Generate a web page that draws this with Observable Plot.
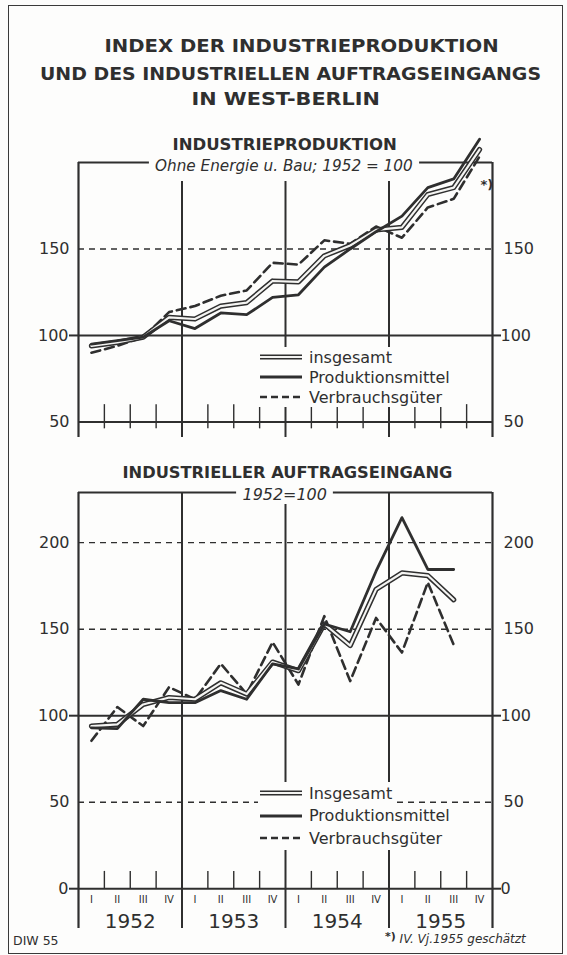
<!DOCTYPE html>
<html>
<head>
<meta charset="utf-8">
<script src="https://cdn.jsdelivr.net/npm/d3@7"></script>
<script src="https://cdn.jsdelivr.net/npm/@observablehq/plot@0.6"></script>
<style>
  body { margin: 0; background: #fdfdfc; }
  #page { position: relative; width: 567px; height: 955px; overflow: hidden; background: #fdfdfc;
          font-family: "DejaVu Sans", sans-serif; color: #2f2f2f; }
  #border { position: absolute; left: 8px; top: 5px; width: 555px; height: 949px;
            border: 1.6px solid #3a3a3a; box-sizing: border-box; }
  .abs { position: absolute; }
  #titles { position: absolute; left: 0; top: 0; z-index: 5; }
  .fit { display: inline-block; white-space: nowrap; transform-origin: center center; }
  .tline { position: absolute; font-weight: bold; font-size: 18px; line-height: 18px; height: 18px; text-align: center; }
  .sub { position: absolute; font-weight: bold; font-size: 16px; line-height: 16px; text-align: center; }
  .subit { position: absolute; font-style: italic; font-size: 15px; line-height: 16px; text-align: center; }
  .subit .fit { background: #fdfdfc; padding: 1px 6px; }
  .legend { position: absolute; font-size: 16px; z-index: 4; }
  .legend .row { display: flex; align-items: center; width: fit-content; background: #fdfdfc; }
  .legend svg { display: block; }
  .chart { position: absolute; left: 0; }
</style>
</head>
<body>
<div id="page">
  <div id="border"></div>
  <div id="top" class="chart" style="top:120px"></div>
  <div id="bottom" class="chart" style="top:455px"></div>
  <div id="titles"></div>
  <div id="legendTop" class="legend" style="left:258px;top:347px"></div>
  <div id="legendBottom" class="legend" style="left:258px;top:782px"></div>
  <div class="abs" style="left:13px;top:934px;font-size:12.5px;line-height:14px;">DIW 55</div>
  <div class="abs" style="left:385px;top:930px;font-size:12px;line-height:14px;white-space:nowrap;"><span style="font-weight:bold;font-size:11px;vertical-align:3px">*)</span><i> IV. Vj.1955 geschätzt</i></div>
</div>
<script>
// ---------------- data ----------------
const years = [1952, 1953, 1954, 1955];
const quarterNames = ["I", "II", "III", "IV"];
const seriesNames = ["insgesamt", "Produktionsmittel", "Verbrauchsgüter"];

// Industrieproduktion (ohne Energie u. Bau; 1952 = 100), quarterly 1952 I – 1955 IV (IV/1955 estimated)
const prodInsgesamt = [94, 96, 99, 110.5, 109.5, 117, 119, 131.5, 131, 146, 152, 161, 162.5, 181.5, 185.5, 207.5];
const prodMittel    = [95, 97, 99, 108.5, 104, 113, 112, 122, 123.5, 139.5, 150, 160, 169, 185.5, 190.5, 213.5];
const prodVerbrauch = [90, 94, 99, 113.5, 117, 123, 126, 142, 141, 155, 153, 163, 156.5, 174, 179, 203.5];

// Industrieller Auftragseingang (1952 = 100), quarterly 1952 I – 1955 III
const auftInsgesamt = [94, 95, 106.5, 110.5, 109.5, 119, 112.5, 131, 126, 153, 140.5, 173, 182.5, 181, 167];
const auftMittel    = [93, 92.5, 109.5, 107.5, 107.5, 114.5, 109.5, 130, 127, 153, 148.5, 183.5, 214.5, 184.5, 184.5];
const auftVerbrauch = [85.5, 105, 94, 116.5, 109.5, 130, 112.5, 142.5, 118, 157.5, 120, 156.5, 136.5, 177, 141];

// ---------------- helpers ----------------
const ink = "#2f2f2f";
const font = "DejaVu Sans, sans-serif";
const nQ = years.length * quarterNames.length;
const pts = vals => vals.map((v, i) => ({q: i + 0.5, v}));
const yearBounds = d3.range(1, years.length).map(i => i * 4);
const quarterBounds = d3.range(1, nQ).filter(i => i % 4 !== 0);
const quarterLabels = d3.range(nQ).map(i => ({q: i + 0.5, t: quarterNames[i % 4]}));
const yearLabels = years.map((y, i) => ({q: i * 4 + 2, t: String(y)}));

function seriesMarks(ins, mit, ver) {
  return [
    Plot.line(pts(ver), {x: "q", y: "v", stroke: ink, strokeWidth: 2.6, strokeDasharray: "9,5"}),
    Plot.line(pts(ins), {x: "q", y: "v", stroke: ink, strokeWidth: 5.2}),
    Plot.line(pts(ins), {x: "q", y: "v", stroke: "#f4f4f2", strokeWidth: 2.2}),
    Plot.line(pts(mit), {x: "q", y: "v", stroke: ink, strokeWidth: 2.8})
  ];
}

function axes(solidTicks, dashedTicks) {
  const common = {fontSize: 16, color: ink, strokeWidth: 2, label: null};
  return [
    Plot.axisY(solidTicks, {...common, anchor: "left", tickSize: 9, tickPadding: 1}),
    Plot.axisY(dashedTicks, {...common, anchor: "left", tickSize: 0, tickPadding: 9}),
    Plot.axisY(solidTicks, {...common, anchor: "right", tickSize: 8, tickPadding: 0}),
    Plot.axisY(dashedTicks, {...common, anchor: "right", tickSize: 0, tickPadding: 11})
  ];
}

// ---------------- top chart ----------------
const topDomain = [41, 200];
const topChart = Plot.plot({
  width: 567, height: 330,
  marginTop: 42, marginBottom: 13, marginLeft: 78, marginRight: 75,
  x: {domain: [0, nQ], axis: null},
  y: {domain: topDomain, axis: null},
  style: {background: "transparent", fontFamily: font, color: ink, overflow: "visible"},
  marks: [
    Plot.ruleY([150], {stroke: ink, strokeWidth: 1.4, strokeDasharray: "6,5"}),
    Plot.ruleY([100, 50], {stroke: ink, strokeWidth: 2}),
    Plot.ruleY([topDomain[1]], {stroke: ink, strokeWidth: 2}),
    Plot.ruleX([0, nQ], {stroke: ink, strokeWidth: 2.2}),
    Plot.ruleX(yearBounds, {y1: 189, y2: topDomain[0], stroke: ink, strokeWidth: 2}),
    Plot.ruleX(quarterBounds, {y1: 46, y2: 60, stroke: ink, strokeWidth: 1.4}),
    ...axes([100], [50, 150]),
    ...seriesMarks(prodInsgesamt, prodMittel, prodVerbrauch),
    Plot.text([{q: nQ - 0.5, v: prodVerbrauch[nQ - 1]}], {x: "q", y: "v", text: () => "*)", dx: 1, dy: 28, fontSize: 13, fontWeight: "bold", fill: ink, textAnchor: "start"})
  ]
});
document.getElementById("top").appendChild(topChart);

// ---------------- bottom chart ----------------
const bottomDomain = [-23, 229];
const bottomChart = Plot.plot({
  width: 567, height: 480,
  marginTop: 37, marginBottom: 7, marginLeft: 78, marginRight: 75,
  x: {domain: [0, nQ], axis: null},
  y: {domain: bottomDomain, axis: null},
  style: {background: "transparent", fontFamily: font, color: ink, overflow: "visible"},
  marks: [
    Plot.ruleY([50, 150, 200], {stroke: ink, strokeWidth: 1.4, strokeDasharray: "6,5"}),
    Plot.ruleY([100, 0], {stroke: ink, strokeWidth: 2}),
    Plot.ruleY([bottomDomain[1]], {stroke: ink, strokeWidth: 2}),
    Plot.ruleX([0, nQ], {stroke: ink, strokeWidth: 2.2}),
    Plot.ruleX(yearBounds, {stroke: ink, strokeWidth: 2}),
    Plot.ruleX(quarterBounds, {y1: 0, y2: 10, stroke: ink, strokeWidth: 1.4}),
    ...axes([0, 100], [50, 150, 200]),
    Plot.text(quarterLabels, {x: "q", y: () => 0, text: "t", dy: 11, fontSize: 10, fill: ink}),
    Plot.text(yearLabels, {x: "q", y: () => 0, text: "t", dy: 33, fontSize: 20, fill: ink}),
    ...seriesMarks(auftInsgesamt, auftMittel, auftVerbrauch)
  ]
});
document.getElementById("bottom").appendChild(bottomChart);

// ---------------- titles ----------------
const titleLines = [
  {text: "INDEX DER INDUSTRIEPRODUKTION", cx: 302, cy: 46, w: 394, cls: "tline"},
  {text: "UND DES INDUSTRIELLEN AUFTRAGSEINGANGS", cx: 290, cy: 74, w: 501, cls: "tline"},
  {text: "IN WEST-BERLIN", cx: 286, cy: 99, w: 188, cls: "tline"},
  {text: "INDUSTRIEPRODUKTION", cx: 285, cy: 145.5, w: 224, cls: "sub"},
  {text: "Ohne Energie u. Bau; 1952 = 100", cx: 284, cy: 166, w: 258, cls: "subit"},
  {text: "INDUSTRIELLER AUFTRAGSEINGANG", cx: 287, cy: 473.5, w: 330, cls: "sub"},
  {text: "1952=100", cx: 285, cy: 495, w: 84, cls: "subit"}
];
const titles = document.getElementById("titles");
for (const t of titleLines) {
  const box = document.createElement("div");
  box.className = t.cls;
  box.style.left = (t.cx - 300) + "px";
  box.style.width = "600px";
  box.style.top = (t.cy - 9) + "px";
  const span = document.createElement("span");
  span.className = "fit";
  span.textContent = t.text;
  box.appendChild(span);
  titles.appendChild(box);
  const pad = t.cls === "subit" ? 12 : 0;
  const w = span.offsetWidth - pad;
  span.style.transform = `scaleX(${t.w / w})`;
}

// ---------------- legends ----------------
function sample(kind) {
  const svg = d3.create("svg").attr("width", 50).attr("height", 20);
  const l = (w, c, dash) => svg.append("line").attr("x1", 2).attr("x2", 44).attr("y1", 10).attr("y2", 10)
      .attr("stroke", c).attr("stroke-width", w).attr("stroke-dasharray", dash || null);
  if (kind === 0) { l(5.2, ink); l(2.2, "#f4f4f2"); }
  if (kind === 1) l(2.8, ink);
  if (kind === 2) l(2.6, ink, "7,4");
  return svg.node();
}
function legend(id, names, rowH) {
  const el = document.getElementById(id);
  names.forEach((n, i) => {
    const row = document.createElement("div");
    row.className = "row";
    row.style.height = rowH + "px";
    row.appendChild(sample(i));
    const s = document.createElement("span");
    s.textContent = n;
    s.style.marginLeft = "1px";
    s.style.paddingRight = "3px";
    row.appendChild(s);
    el.appendChild(row);
  });
}
legend("legendTop", seriesNames, 20);
legend("legendBottom", ["Insgesamt", seriesNames[1], seriesNames[2]], 22.5);
</script>
</body>
</html>
